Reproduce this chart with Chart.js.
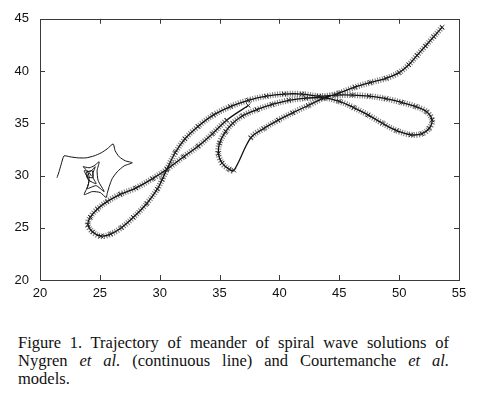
<!DOCTYPE html>
<html>
<head>
<meta charset="utf-8">
<script src="https://cdn.jsdelivr.net/npm/chart.js@4.4.1/dist/chart.umd.min.js"></script>
<style>
  html, body { margin: 0; padding: 0; background: #fff; }
  #wrap { position: absolute; left: 0; top: 0; width: 477px; height: 305px; }
  #cap { position: absolute; left: 18px; top: 334px; width: 431px;
         font-family: 'Liberation Serif', 'DejaVu Serif', serif; font-size: 16.5px;
         line-height: 18px; color: #111; }
  .j { text-align: justify; text-align-last: justify; white-space: nowrap; }
</style>
</head>
<body>
<div id="wrap"><canvas id="c"></canvas></div>
<div id="cap">
  <div class="j">Figure 1. Trajectory of meander of spiral wave solutions of</div>
  <div class="j">Nygren <i>et al.</i> (continuous line) and Courtemanche <i>et al.</i></div>
  <div>models.</div>
</div>
<script>
// ---- data ----
const xTickValues = [20, 25, 30, 35, 40, 45, 50, 55];
const yTickValues = [20, 25, 30, 35, 40, 45];

// Courtemanche et al. trajectory (crosses), in time order
const courtemanchePath = [
  [37.4, 36.7], [35.6, 35.3],
  [34.4, 34.0], [33.2, 32.8], [32.0, 31.8], [30.6, 30.6], [29.4, 29.7], [28.0, 28.8],
  [26.7, 28.2], [25.6, 27.5], [24.8, 26.8], [24.2, 26.0], [24.0, 25.3], [24.4, 24.6],
  [25.1, 24.2], [25.9, 24.4], [26.8, 25.0], [27.8, 26.0], [28.9, 27.3], [29.8, 28.7],
  [30.2, 29.6], [30.6, 30.6], [31.3, 32.2], [32.1, 33.5], [33.2, 34.7], [34.5, 35.8],
  [35.9, 36.6], [37.4, 37.2], [38.9, 37.6], [40.4, 37.8], [41.9, 37.8], [43.3, 37.6],
  [44.7, 37.7], [46.1, 37.7], [47.5, 37.6], [48.9, 37.35], [50.2, 37.0], [51.4, 36.6],
  [52.3, 36.1], [52.75, 35.3], [52.5, 34.5], [51.9, 34.0], [51.0, 33.9], [49.8, 34.3],
  [48.6, 35.0], [47.4, 35.8], [46.2, 36.5], [45.0, 37.1], [43.6, 37.45], [42.2, 37.4],
  [40.8, 37.2], [39.4, 36.8], [38.1, 36.3], [36.9, 35.7], [36.1, 35.0], [35.5, 34.2],
  [35.0, 33.1], [34.9, 32.1], [35.2, 31.2], [35.8, 30.6], [36.2, 30.5],
  [37.6, 33.6], [38.7, 34.5], [39.9, 35.3], [41.1, 36.0], [42.4, 36.7], [43.7, 37.4],
  [45.0, 37.9], [46.3, 38.45], [47.6, 38.9], [48.9, 39.3], [50.0, 39.85], [50.8, 40.6],
  [51.5, 41.5], [52.2, 42.4], [52.9, 43.3], [53.6, 44.2]
];

// Nygren et al. trajectory (continuous line)
const nygrenPath = [
  [21.42, 29.79], [21.59, 30.36], [21.76, 31.03], [22.01, 31.88],
  [22.51, 31.79], [23.18, 31.69], [23.85, 31.69], [24.52, 31.88], [25.11, 32.17],
  [25.61, 32.55], [26.11, 33.02],
  [26.28, 32.36], [26.62, 31.79], [27.12, 31.41], [27.71, 31.22],
  [27.04, 30.93], [26.45, 30.36], [26.03, 29.70], [25.78, 28.94], [25.61, 28.27], [25.53, 27.89],
  [25.03, 28.37], [24.36, 28.46], [23.69, 28.17],
  [24.02, 29.03], [24.10, 29.89], [23.94, 30.46], [23.60, 30.84],
  [24.10, 30.74], [24.52, 30.93], [24.94, 31.31],
  [24.77, 30.46], [24.86, 29.51], [25.36, 28.46],
  [24.69, 29.03], [23.94, 28.75],
  [24.10, 29.51], [23.69, 30.46],
  [24.19, 30.36], [24.61, 30.84],
  [24.36, 29.98], [24.69, 29.22],
  [24.02, 29.60], [23.85, 30.27], [24.36, 30.46], [24.44, 29.80],
  [23.94, 29.89], [24.10, 30.27], [24.27, 29.98]
];

const toPts = arr => arr.map(p => ({ x: p[0], y: p[1] }));

function segLen(ctx) {
  const dx = ctx.p1.x - ctx.p0.x, dy = ctx.p1.y - ctx.p0.y;
  return Math.sqrt(dx * dx + dy * dy);
}

const framePlugin = {
  id: 'frame',
  afterDatasetsDraw(chart) {
    const { ctx, chartArea: a, scales } = chart;
    ctx.save();
    ctx.strokeStyle = '#3a3a3a';
    ctx.lineWidth = 1;
    ctx.strokeRect(Math.round(a.left) + 0.5, Math.round(a.top) + 0.5,
                   Math.round(a.right - a.left), Math.round(a.bottom - a.top));
    const L = 5;
    ctx.beginPath();
    xTickValues.forEach(v => {
      const px = Math.round(scales.x.getPixelForValue(v)) + 0.5;
      if (px <= a.left + 1 || px >= a.right - 1) return;
      ctx.moveTo(px, a.bottom); ctx.lineTo(px, a.bottom - L);
      ctx.moveTo(px, a.top); ctx.lineTo(px, a.top + L);
    });
    yTickValues.forEach(v => {
      const py = Math.round(scales.y.getPixelForValue(v)) + 0.5;
      if (py <= a.top + 1 || py >= a.bottom - 1) return;
      ctx.moveTo(a.left, py); ctx.lineTo(a.left + L, py);
      ctx.moveTo(a.right, py); ctx.lineTo(a.right - L, py);
    });
    ctx.stroke();
    ctx.restore();
  }
};

const tickFont = { family: "'Liberation Sans', Arial, sans-serif", size: 13 };

new Chart(document.getElementById('c'), {
  type: 'scatter',
  data: {
    datasets: [
      {
        label: 'Nygren et al.',
        data: toPts(nygrenPath),
        showLine: true,
        borderColor: '#111',
        borderWidth: 1,
        pointRadius: 0,
        tension: 0.2,
        order: 1
      },
      {
        label: 'Courtemanche et al. (line)',
        data: toPts(courtemanchePath),
        showLine: true,
        borderColor: '#111',
        borderWidth: 1.3,
        pointStyle: 'crossRot',
        pointRadius: 3,
        pointBorderColor: '#222',
        pointBorderWidth: 1,
        tension: 0.35,
        order: 2
      },
      {
        label: 'Courtemanche et al. (marks)',
        data: toPts(courtemanchePath),
        showLine: true,
        borderColor: '#7a7a7a',
        borderWidth: 6,
        borderDash: [1, 1.5],
        borderCapStyle: 'butt',
        pointRadius: 0,
        tension: 0.35,
        segment: {
          borderColor: ctx => segLen(ctx) > 23 ? 'rgba(0,0,0,0)' : '#7a7a7a'
        },
        order: 3
      }
    ]
  },
  options: {
    responsive: true,
    maintainAspectRatio: false,
    animation: false,
    events: [],
    layout: { padding: { top: 17, right: 18, left: 0, bottom: 0 } },
    plugins: { legend: { display: false }, tooltip: { enabled: false } },
    scales: {
      x: {
        type: 'linear',
        min: xTickValues[0],
        max: xTickValues[xTickValues.length - 1],
        afterBuildTicks: s => { s.ticks = xTickValues.map(v => ({ value: v })); },
        afterFit: s => { s.height = 25; },
        grid: { display: false, drawTicks: false },
        border: { display: false },
        ticks: { color: '#111', font: tickFont, padding: 6, maxRotation: 0 }
      },
      y: {
        type: 'linear',
        min: yTickValues[0],
        max: yTickValues[yTickValues.length - 1],
        afterBuildTicks: s => { s.ticks = yTickValues.map(v => ({ value: v })); },
        afterFit: s => { s.width = 40; },
        grid: { display: false, drawTicks: false },
        border: { display: false },
        ticks: { color: '#111', font: tickFont, padding: 11 }
      }
    }
  },
  plugins: [framePlugin]
});
</script>
</body>
</html>
